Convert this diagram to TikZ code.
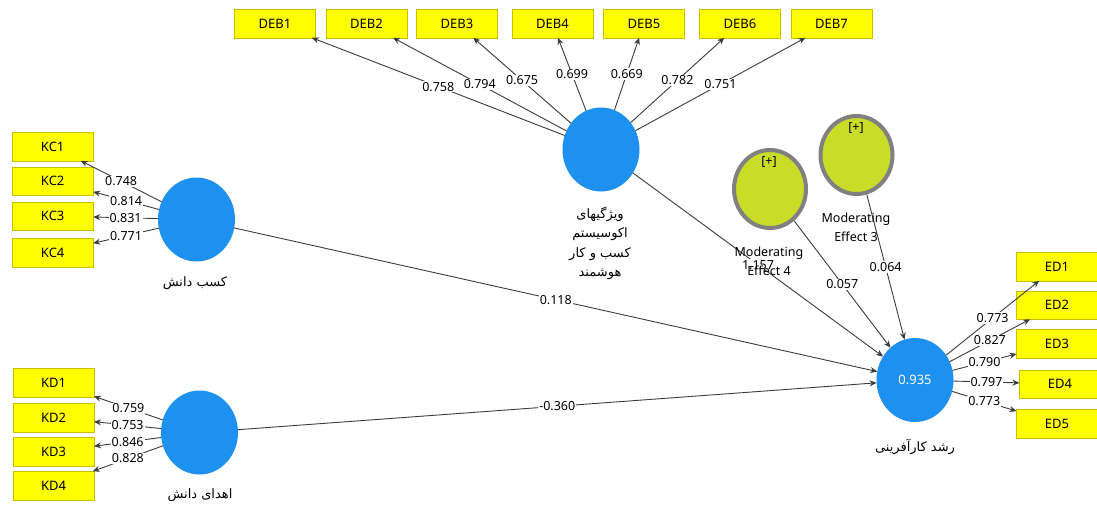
\documentclass[tikz,border=0pt]{standalone}
\usepackage{fontspec}
\setmainfont{Noto Sans}
\newfontfamily\farsi[Script=Arabic]{DejaVu Sans}
\TeXXeTstate=1
\usepackage{tikz}
\usetikzlibrary{arrows.meta,shapes.geometric}
\definecolor{LvBlue}{RGB}{30,144,240}
\definecolor{IndYellow}{RGB}{255,255,0}
\definecolor{IndBorder}{RGB}{200,190,0}
\definecolor{ModGreen}{RGB}{200,220,40}
\definecolor{ModGray}{RGB}{128,128,128}
\definecolor{LGray}{RGB}{60,60,60}
\tikzset{
  ind/.style={rectangle,draw=IndBorder,fill=IndYellow,minimum width=81pt,minimum height=28.5pt,
    inner sep=0pt,outer sep=0pt,font=\fontsize{13}{15}\selectfont},
  lv/.style={ellipse,fill=LvBlue,minimum width=77pt,minimum height=84pt,inner sep=0pt,outer sep=0pt,
    text=white,font=\fontsize{13}{15}\selectfont},
  mod/.style={ellipse,draw=ModGray,line width=4pt,fill=ModGreen,minimum width=72pt,minimum height=78pt,inner sep=0pt},
  val/.style={fill=white,inner sep=1pt,font=\fontsize{12.5}{14}\selectfont},
  lvname/.style={align=center,font={\farsi\fontsize{13}{19.5}\selectfont}},
  modname/.style={align=center,font=\fontsize{12.5}{19}\selectfont},
  ld/.style={draw=LGray,line width=0.9pt,-{Stealth[length=7pt,width=6pt]}}
}

\begin{document}
\begin{tikzpicture}[x=1pt,y=-1pt]
\fill[white] (0,0) rectangle (1097,504);
\useasboundingbox (0,0) rectangle (1097,504);

% latent variables
\node[lv] (deb) at (601,149.5) {};
\node[lv] (kc) at (196.5,219.5) {};
\node[lv] (kd) at (199.5,432.5) {};
\node[lv] (ed) at (915,380) {0.935};
\node[mod] (me4) at (770,189) {};
\node[mod] (me3) at (856.5,155) {};

% indicators
\node[ind] (deb1) at (275,23.5) {DEB1};
\node[ind] (deb2) at (366.5,23.5) {DEB2};
\node[ind] (deb3) at (457,23.5) {DEB3};
\node[ind] (deb4) at (552.5,23.5) {DEB4};
\node[ind] (deb5) at (644,23.5) {DEB5};
\node[ind] (deb6) at (740,23.5) {DEB6};
\node[ind] (deb7) at (831.5,23.5) {DEB7};

\node[ind] (kc1) at (52.7,146.5) {KC1};
\node[ind] (kc2) at (52.7,181) {KC2};
\node[ind] (kc3) at (52.7,216) {KC3};
\node[ind] (kc4) at (52.7,252.5) {KC4};

\node[ind] (kd1) at (53.5,382.5) {KD1};
\node[ind] (kd2) at (53.5,417.5) {KD2};
\node[ind] (kd3) at (53.5,451.5) {KD3};
\node[ind] (kd4) at (53.5,485.5) {KD4};

\node[ind] (ed1) at (1057,266.5) {ED1};
\node[ind] (ed2) at (1057,305) {ED2};
\node[ind] (ed3) at (1057,343.5) {ED3};
\node[ind] (ed4) at (1060,384) {ED4};
\node[ind] (ed5) at (1057,423.5) {ED5};

% outer loadings
\draw[ld] (deb) -- node [val] {0.758} (deb1);
\draw[ld] (deb) -- node [val] {0.794} (deb2);
\draw[ld] (deb) -- node [val] {0.675} (deb3);
\draw[ld] (deb) -- node [val] {0.699} (deb4);
\draw[ld] (deb) -- node [val] {0.669} (deb5);
\draw[ld] (deb) -- node [val] {0.782} (deb6);
\draw[ld] (deb) -- node [val] {0.751} (deb7);

\draw[ld] (kc) -- node [val] {0.748} (kc1);
\draw[ld] (kc) -- node [val] {0.814} (kc2);
\draw[ld] (kc) -- node [val] {0.831} (kc3);
\draw[ld] (kc) -- node [val] {0.771} (kc4);

\draw[ld] (kd) -- node [val] {0.759} (kd1);
\draw[ld] (kd) -- node [val] {0.753} (kd2);
\draw[ld] (kd) -- node [val] {0.846} (kd3);
\draw[ld] (kd) -- node [val] {0.828} (kd4);

\draw[ld] (ed) -- node [val] {0.773} (ed1);
\draw[ld] (ed) -- node [val] {0.827} (ed2);
\draw[ld] (ed) -- node [val] {0.790} (ed3);
\draw[ld] (ed) -- node [val] {0.797} (ed4);
\draw[ld] (ed) -- node [val] {0.773} (ed5);

% path coefficients
\draw[ld] (kc) -- node [val] {0.118} (ed);
\draw[ld] (kd) -- node [val] {-0.360} (ed);
\draw[ld] (deb) -- node [val] {1.157} (ed);
\draw[ld] (me4) -- node [val] {0.057} (ed);
\draw[ld] (me3) -- node [val] {0.064} (ed);

% names
\node[lvname] (debname) at (600,243.5) {\beginR ویژگیهای\endR\\\beginR اکوسیستم\endR\\\beginR کسب و کار\endR\\\beginR هوشمند\endR};
\node[lvname] (kcname) at (195,283) {\beginR کسب دانش\endR};
\node[lvname] (kdname) at (200,495) {\beginR اهدای دانش\endR};
\node[lvname] (edname) at (915,447) {\beginR رشد کارآفرینی\endR};
\node[modname] (me4name) at (769,261.5) {Moderating\\Effect 4};
\node[modname] (me3name) at (856,227) {Moderating\\Effect 3};
\node[modname] (plus4) at (769,162) {[+]};
\node[modname] (plus3) at (856,128) {[+]};
\end{tikzpicture}
\end{document}
